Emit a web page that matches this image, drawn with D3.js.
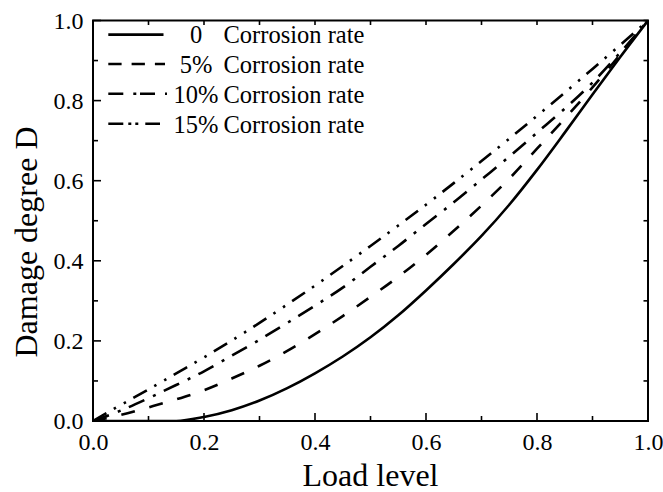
<!DOCTYPE html>
<html>
<head>
<meta charset="utf-8">
<script src="https://cdn.jsdelivr.net/npm/d3@7/dist/d3.min.js"></script>
<style>
  html, body { margin: 0; padding: 0; background: #fff; }
  svg { display: block; }
</style>
</head>
<body>
<svg id="chart" width="663" height="492"></svg>
<script>
// ---- data ----
const loadLevel = [0,0.05,0.1,0.15,0.2,0.25,0.3,0.35,0.4,0.45,0.5,0.55,0.6,0.65,0.7,0.75,0.8,0.85,0.9,0.95,1];
const rate0  = [0,0,0,0,0.01,0.027,0.051,0.082,0.119,0.161,0.209,0.264,0.326,0.392,0.462,0.54,0.627,0.72,0.815,0.909,1];
const rate5  = [0,0.015,0.034,0.054,0.077,0.106,0.138,0.175,0.217,0.262,0.31,0.36,0.415,0.475,0.538,0.605,0.68,0.755,0.833,0.915,1];
const rate10 = [0,0.026,0.057,0.09,0.124,0.163,0.203,0.245,0.288,0.333,0.385,0.437,0.492,0.546,0.603,0.66,0.72,0.78,0.845,0.92,1];
const rate15 = [0,0.04,0.079,0.119,0.159,0.201,0.245,0.291,0.338,0.387,0.437,0.488,0.54,0.594,0.649,0.705,0.762,0.82,0.879,0.939,1];
const seriesNums = ["0","5%","10%","15%"];
const seriesSuffix = "Corrosion rate";
const xTicks = [0,0.2,0.4,0.6,0.8,1.0];
const yTicks = [0,0.2,0.4,0.6,0.8,1.0];
const minorTicks = [0,0.1,0.2,0.3,0.4,0.5,0.6,0.7,0.8,0.9,1.0];
const xTitle = "Load level";
const yTitle = "Damage degree D";

// ---- layout ----
const FONT = "'Liberation Serif'";
const W = 663, H = 492;
const m = {left: 93, right: 15, top: 20.5, bottom: 71};
const svg = d3.select("#chart");
const x = d3.scaleLinear().domain([0,1]).range([m.left, W - m.right]);
const y = d3.scaleLinear().domain([0,1]).range([H - m.bottom, m.top]);

const series = [rate0, rate5, rate10, rate15];
const plotDash = [null, "14,15", "17,9.5,3,9", "15.5,8.5,2.5,9,2.5,8.5"];
const legDash  = [null, "13.3,10", "15,10,3,3.7", "15,5,3,4,3,7"];
const legEnd   = [163.5, 165, 167, 160];

svg.append("clipPath").attr("id","clip").append("rect")
  .attr("x", m.left).attr("y", m.top)
  .attr("width", W - m.left - m.right).attr("height", H - m.top - m.bottom);

const line = d3.line().x(d => x(d[0])).y(d => y(Math.max(0, d[1]))).curve(d3.curveMonotoneX);

const g = svg.append("g").attr("clip-path","url(#clip)");
series.forEach((s, i) => {
  g.append("path")
    .datum(loadLevel.map((v, k) => [v, s[k]]))
    .attr("d", line)
    .attr("fill","none")
    .attr("stroke","#000")
    .attr("stroke-width", 2.6)
    .attr("stroke-dasharray", plotDash[i]);
});

// ---- axes ----
const fmt = d3.format(".1f");
const tickFont = 24;
const bottom = svg.append("g").attr("transform", `translate(0,${y(0)})`)
  .call(d3.axisBottom(x).tickValues(xTicks).tickFormat(fmt).tickSize(0).tickPadding(12));
bottom.select(".domain").remove();
bottom.selectAll("text").style("font-family", FONT).style("font-size", tickFont + "px");

const left = svg.append("g").attr("transform", `translate(${x(0)},0)`)
  .call(d3.axisLeft(y).tickValues(yTicks).tickFormat(fmt).tickSize(0).tickPadding(9.5));
left.select(".domain").remove();
left.selectAll("text").style("font-family", FONT).style("font-size", tickFont + "px");

// inward ticks
const tk = svg.append("g").attr("stroke","#000").attr("stroke-width",1.6);
minorTicks.forEach((v, i) => {
  const major = i % 2 === 0;
  const L = major ? 8 : 5;
  tk.append("line").attr("x1", x(v)).attr("x2", x(v)).attr("y1", y(0)).attr("y2", y(0) - L);
  tk.append("line").attr("y1", y(v)).attr("y2", y(v)).attr("x1", x(0)).attr("x2", x(0) + L);
  tk.append("line").attr("x1", x(v)).attr("x2", x(v)).attr("y1", y(1)).attr("y2", y(1) + 4.5);
  tk.append("line").attr("y1", y(v)).attr("y2", y(v)).attr("x1", x(1)).attr("x2", x(1) - 4.5);
});

// frame
svg.append("rect")
  .attr("x", x(0)).attr("y", y(1))
  .attr("width", x(1) - x(0)).attr("height", y(0) - y(1))
  .attr("fill","none").attr("stroke","#000").attr("stroke-width",2);

// titles
svg.append("text").attr("x", (x(0)+x(1))/2).attr("y", 486)
  .attr("text-anchor","middle").style("font-family", FONT).style("font-size","32px").text(xTitle);
svg.append("text")
  .attr("transform", `translate(36.5,242) rotate(-90)`)
  .attr("text-anchor","middle").style("font-family", FONT).style("font-size","32px").text(yTitle);

// legend
const rowY = [43.3, 72.7, 102.5, 132.5];
const leg = svg.append("g");
seriesNums.forEach((n, i) => {
  leg.append("line")
    .attr("x1", 108.3).attr("x2", legEnd[i])
    .attr("y1", rowY[i] - 8.7).attr("y2", rowY[i] - 8.7)
    .attr("stroke","#000").attr("stroke-width",2.6)
    .attr("stroke-dasharray", legDash[i]);
  leg.append("text").attr("x", 196).attr("y", rowY[i])
    .attr("text-anchor","middle").style("font-family", FONT).style("font-size","24.5px").text(n);
  leg.append("text").attr("x", 223.5).attr("y", rowY[i])
    .style("font-family", FONT).style("font-size","24.5px").text(seriesSuffix);
});
</script>
</body>
</html>
